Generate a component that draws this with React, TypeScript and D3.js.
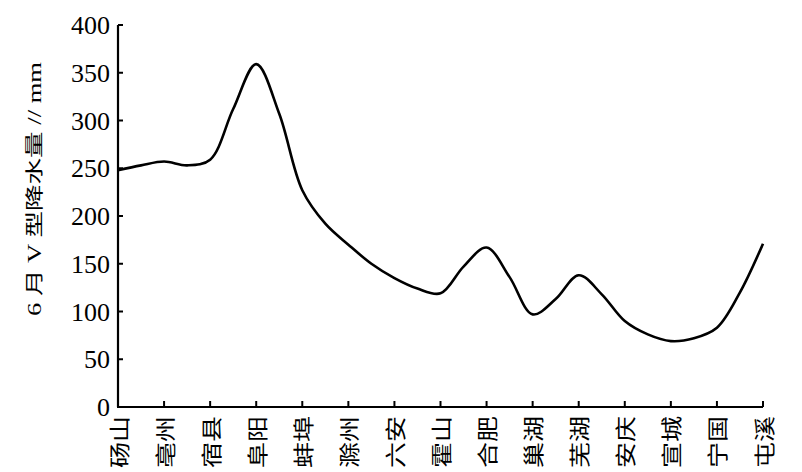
import React from "react";
import * as d3 from "d3";

const categories = ["砀山", "亳州", "宿县", "阜阳", "蚌埠", "滁州", "六安", "霍山", "合肥", "巢湖", "芜湖", "安庆", "宣城", "宁国", "屯溪"];
// values read at every half-step between stations (station index = i / 2)
const rainfall = [248, 253, 257, 253, 259, 312, 359, 307, 227, 192, 170, 150, 135, 124, 119, 147, 167, 136, 97, 113, 138, 118, 90, 76, 69, 72, 83, 120, 171];
const yTicks = [0, 50, 100, 150, 200, 250, 300, 350, 400];
const yTitle = "6 月 V 型降水量 // mm";

const W = 802;
const H = 472;

export default function App() {
  const x = d3.scaleLinear().domain([0, categories.length - 1]).range([118, 763]);
  const y = d3.scaleLinear().domain([0, 400]).range([407, 25]);
  const line = d3
    .line<number>()
    .x((_, i) => x(i / 2))
    .y((d) => y(d))
    .curve(d3.curveCatmullRom.alpha(0.5));

  return (
    <svg width={W} height={H} style={{ position: "absolute", left: 0, top: 0, background: "#fff" }}>
      {/* y axis */}
      <line x1={x(0)} x2={x(0)} y1={y(400)} y2={y(0)} stroke="#000" strokeWidth={2.2} />
      {yTicks.map((t) => (
        <g key={t}>
          <line x1={x(0)} x2={x(0) + 5} y1={y(t)} y2={y(t)} stroke="#000" strokeWidth={2} />
          <text
            x={110}
            y={y(t)}
            dy="0.35em"
            textAnchor="end"
            fontFamily="'Liberation Serif', 'DejaVu Serif', serif"
            fontSize={26}
            fill="#000"
          >
            {t}
          </text>
        </g>
      ))}
      {/* x axis */}
      <line x1={x(0) - 1} x2={x(categories.length - 1)} y1={y(0)} y2={y(0)} stroke="#000" strokeWidth={2.2} />
      {categories.map((c, i) => (
        <g key={c}>
          {i > 0 && (
            <line x1={x(i)} x2={x(i)} y1={y(0)} y2={y(0) - 6} stroke="#000" strokeWidth={2} />
          )}
          <text
            transform={`translate(${x(i) + 1},416) rotate(-90)`}
            textAnchor="end"
            dy="0.36em"
            fontFamily="'Noto Sans CJK SC', sans-serif"
            fontSize={21}
            textLength={52}
            lengthAdjust="spacingAndGlyphs"
            fill="#000"
          >
            {c}
          </text>
        </g>
      ))}
      {/* y title */}
      <text
        transform={`translate(35,189) rotate(-90)`}
        textAnchor="middle"
        dy="0.36em"
        fontFamily="'Liberation Serif', 'Noto Sans CJK SC', serif"
        fontSize={18}
        textLength={254}
        lengthAdjust="spacingAndGlyphs"
        fill="#000"
      >
        {yTitle}
      </text>
      {/* data line */}
      <path d={line(rainfall) || ""} fill="none" stroke="#000" strokeWidth={2.6} strokeLinejoin="round" />
    </svg>
  );
}
